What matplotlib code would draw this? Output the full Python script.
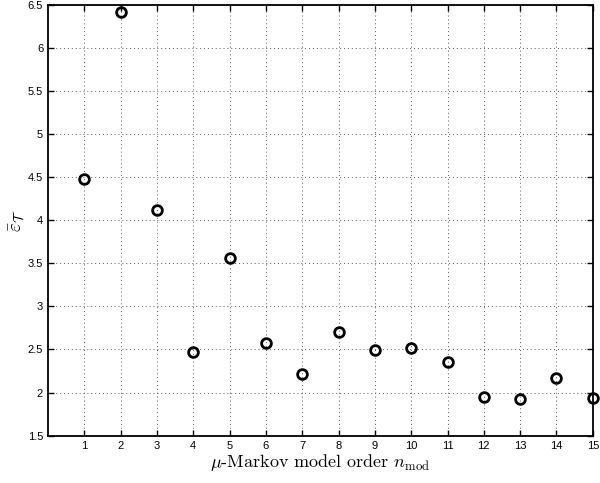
import matplotlib
matplotlib.use('Agg')
import matplotlib.pyplot as plt

plt.rcParams['mathtext.fontset'] = 'cm'
plt.rcParams['font.family'] = 'Liberation Sans'

order = list(range(1, 16))
err = [4.48, 6.42, 4.12, 2.47, 3.56, 2.57, 2.22, 2.70, 2.49, 2.52, 2.35, 1.95, 1.93, 2.17, 1.94]

fig = plt.figure(figsize=(6, 4.83), dpi=100)
ax = fig.add_axes([0.08, 0.098, 0.908, 0.892])

ax.plot(order, err, 'o', mfc='none', mec='black', mew=2, ms=7, clip_on=False, zorder=3)

ax.set_xlim(0, 15)
ax.set_ylim(1.5, 6.5)
ax.set_xticks(order)
ax.set_yticks([1.5, 2, 2.5, 3, 3.5, 4, 4.5, 5, 5.5, 6, 6.5])
ax.set_yticklabels(['1.5', '2', '2.5', '3', '3.5', '4', '4.5', '5', '5.5', '6', '6.5'])
ax.tick_params(direction='in', top=True, right=True, labelsize=8, length=4, width=1)
ax.grid(True, linestyle=(0, (1, 3)), color='#555555', linewidth=0.7)
for s in ax.spines.values():
    s.set_linewidth(1.3)

ax.set_xlabel(r'$\mu$-Markov model order $n_{\mathrm{mod}}$', family='cmr10', fontsize=13, labelpad=1)
ax.set_ylabel(r'$\bar{\varepsilon}_{\mathcal{T}}$', fontsize=14)
ax.yaxis.set_label_coords(-0.038, 0.5)

fig.savefig('out.png', dpi=100)
